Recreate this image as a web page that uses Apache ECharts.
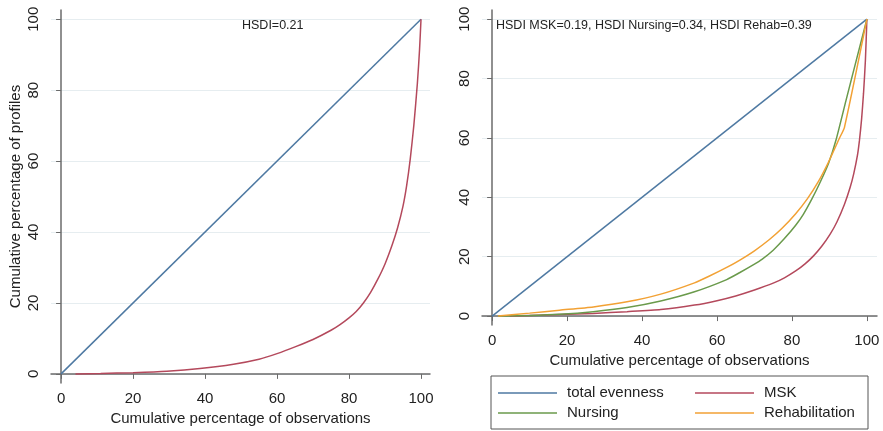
<!DOCTYPE html>
<html>
<head>
<meta charset="utf-8">
<script src="https://cdn.jsdelivr.net/npm/echarts@6/dist/echarts.min.js"></script>
<style>
  html, body { margin: 0; padding: 0; background: #fff; }
  #chart { width: 883px; height: 431px; }
</style>
</head>
<body>
<div id="chart"></div>
<script>
// tick labels (both panels use the same)
var ticks = [0, 20, 40, 60, 80, 100];

// total evenness (diagonal)
var evenX = [0, 100];
var evenY = [0, 100];

// left panel: single curve (all profiles, MSK colour)
var leftX = [4, 11, 20, 29.4, 38.6, 47.9, 55, 60, 65, 70, 75, 77.5, 80, 82, 84, 86, 88, 90, 92, 93.5, 95, 96, 97, 98, 99, 99.6, 100];
var leftY = [0, 0.1, 0.35, 0.75, 1.5, 2.7, 4.1, 5.7, 7.6, 9.7, 12.3, 13.9, 15.8, 17.6, 20, 23, 26.7, 31, 36.4, 41.2, 47.3, 53, 60.5, 70, 82, 91.5, 100];

// right panel
var mskX = [4.7, 10, 18, 27, 36, 45, 54, 60, 65, 70, 75, 78, 81, 83.5, 85.7, 88, 90.2, 92, 94, 95.5, 96.5, 97.5, 98, 98.6, 99.1, 99.6, 100];
var mskY = [0, 0.2, 0.5, 0.9, 1.5, 2.2, 3.7, 5.2, 6.8, 8.8, 11.1, 12.9, 15.2, 17.6, 20.2, 23.6, 27.6, 31.7, 37.6, 43.2, 48, 54.3, 59, 66.5, 75, 86, 100];

var nursX = [1.6, 10, 18, 27, 36, 45, 54, 62.6, 66, 70, 72, 75, 78, 81, 83, 85.3, 87.5, 89.8, 91.8, 94.4, 97.2, 100];
var nursY = [0, 0.2, 0.6, 1.5, 2.9, 5.1, 8.2, 12.3, 14.6, 17.5, 19.1, 22.2, 26.1, 30.6, 34.2, 39.4, 45, 51.6, 59.5, 72.5, 86.3, 100];

var rehabX = [1.6, 10, 18, 27, 36, 45, 54, 58, 62.6, 66, 70, 74, 77.3, 81, 84.1, 87, 89.8, 92.7, 94, 100];
var rehabY = [0, 1.0, 2.0, 3.1, 4.8, 7.4, 11.2, 13.5, 16.4, 18.8, 22, 25.8, 29.5, 34.5, 39.5, 45.2, 52, 60, 63.5, 100];

var legendNames = ['total evenness', 'MSK', 'Nursing', 'Rehabilitation'];
var colors = {
  'total evenness': '#4e79a2',
  'MSK': '#b4495c',
  'Nursing': '#6a9a4b',
  'Rehabilitation': '#f2a134'
};

function pairs(xs, ys) {
  var out = [];
  for (var i = 0; i < xs.length; i++) out.push([xs[i], ys[i]]);
  return out;
}

var font = 'Liberation Sans, Arial, sans-serif';
var axisColor = '#6b6b6b';
var gridColor = '#e6edf0';

function xAxisOf(idx, min, max, name) {
  return {
    type: 'value', gridIndex: idx, min: min, max: max,
    name: name, nameLocation: 'middle', nameGap: 26,
    nameTextStyle: { fontFamily: font, fontSize: 15, color: '#222' },
    axisLine: { lineStyle: { color: axisColor, width: 1.5 } },
    axisTick: { customValues: ticks, length: 5, lineStyle: { color: axisColor } },
    axisLabel: { customValues: ticks, margin: 8, fontFamily: font, fontSize: 15, color: '#222' },
    splitLine: { show: false }
  };
}
function yAxisOf(idx, min, max, name) {
  return {
    type: 'value', gridIndex: idx, min: min, max: max,
    name: name, nameLocation: 'middle', nameGap: 28, nameRotate: 90,
    nameTextStyle: { fontFamily: font, fontSize: 15, color: '#222' },
    axisLine: { show: true, lineStyle: { color: axisColor, width: 1.5 } },
    axisTick: { show: true, customValues: ticks, length: 5, lineStyle: { color: axisColor } },
    axisLabel: { customValues: ticks, rotate: 90, margin: 10, fontFamily: font, fontSize: 15, color: '#222' },
    splitLine: { show: true, lineStyle: { color: gridColor, width: 1 } }
  };
}
function line(name, xi, data) {
  return {
    name: name, type: 'line', xAxisIndex: xi, yAxisIndex: xi,
    data: data, showSymbol: false, symbol: 'none',
    smooth: 0.2,
    lineStyle: { color: colors[name], width: 1.5 },
    itemStyle: { color: colors[name] },
    animation: false
  };
}

// legend items, first column wider so the second column lines up
var legendData = legendNames.map(function (n, i) {
  return { name: n, textStyle: { width: i % 2 === 0 ? 124 : 97 } };
});

var chart = echarts.init(document.getElementById('chart'));
chart.setOption({
  backgroundColor: '#fff',
  animation: false,
  title: [
    { text: 'HSDI=0.21', left: 242, top: 19, padding: 0,
      textStyle: { fontFamily: font, fontSize: 12.5, fontWeight: 'normal', color: '#222' } },
    { text: 'HSDI MSK=0.19, HSDI Nursing=0.34, HSDI Rehab=0.39', left: 496, top: 19, padding: 0,
      textStyle: { fontFamily: font, fontSize: 12.5, fontWeight: 'normal', color: '#222' } }
  ],
  grid: [
    { left: 51, right: 453, top: 10, bottom: 43 },
    { left: 482, right: 6, top: 10, bottom: 106 }
  ],
  xAxis: [
    xAxisOf(0, -2.8, 102.5, 'Cumulative percentage of observations'),
    xAxisOf(1, -2.7, 102.7, 'Cumulative percentage of observations')
  ],
  yAxis: [
    yAxisOf(0, -2.6, 102.6, 'Cumulative percentage of profiles'),
    yAxisOf(1, -3.0, 103.1, '')
  ],
  legend: {
    data: legendData,
    left: 491, top: 376, width: 372,
    orient: 'horizontal',
    icon: 'rect', itemWidth: 59, itemHeight: 1.5, itemGap: 4,
    padding: [9, 7, 8, 7],
    borderColor: '#555', borderWidth: 1,
    selectedMode: false,
    textStyle: { fontFamily: font, fontSize: 15, color: '#222', lineHeight: 16, padding: [0, 0, 0, 5] }
  },
  series: [
    line('total evenness', 0, pairs(evenX, evenY)),
    line('MSK', 0, pairs(leftX, leftY)),
    line('total evenness', 1, pairs(evenX, evenY)),
    line('MSK', 1, pairs(mskX, mskY)),
    line('Nursing', 1, pairs(nursX, nursY)),
    line('Rehabilitation', 1, pairs(rehabX, rehabY))
  ]
});
</script>
</body>
</html>
